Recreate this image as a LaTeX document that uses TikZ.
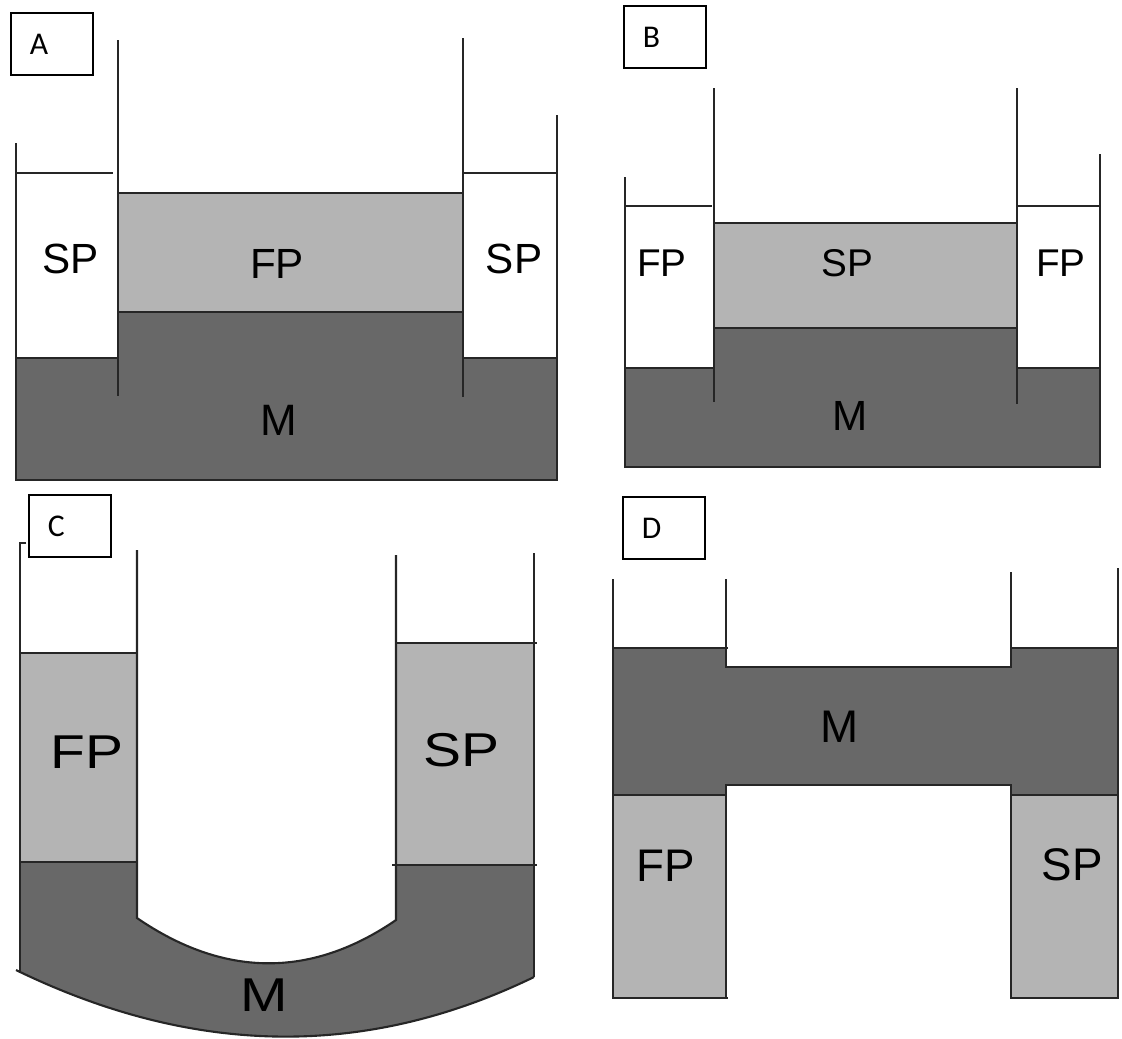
\documentclass[tikz,border=0pt]{standalone}
\usepackage{fontspec}
\setmainfont{Liberation Sans}
\newfontfamily\tagfont{Carlito}
\newfontfamily\widefont[FakeStretch=1.2]{Liberation Sans}
\definecolor{lightgr}{RGB}{180,180,180}
\definecolor{darkgr}{RGB}{104,104,104}

\begin{document}
\begin{tikzpicture}[
      x=0.01cm, y=-0.01cm,
      mywall/.style={draw=black!85, line width=0.6pt},
      mylight/.style={fill=lightgr},
      mydark/.style={fill=darkgr},
      mylabel/.style={inner sep=0pt, font=\fontsize{#1}{#1}\selectfont},
      mylabel/.default=12,
      mywide/.style={inner sep=0pt, font=\widefont\fontsize{13.5}{13.5}\selectfont},
      mytag/.style={
         draw=black,
         line width=0.5pt,
         anchor=north west,
         inner xsep=0.19cm,
         text width=0.44cm,
         minimum height=0.62cm,
         align=left,
         font=\tagfont\fontsize{9}{10}\selectfont}
      ]
      \useasboundingbox (0,0) rectangle (1122,1038);

      % A
      \fill[mydark] (16,358) -- (118,358) -- (118,312) -- (463,312) -- (463,358)
         -- (557,358) -- (557,480) -- (16,480) -- cycle;
      \filldraw[mylight, mywall] (118,193) rectangle (463,312);
      \draw[mywall] (16,143) -- (16,480) -- (557,480) -- (557,115);
      \draw[mywall] (16,173) -- (113,173) (463,173) -- (557,173);
      \draw[mywall] (16,358) -- (118,358) (463,358) -- (557,358);
      \draw[mywall] (118,40) -- (118,396) (463,38) -- (463,397);
      \node[mytag] (tagA) at (10,12) {A};
      \node[mylabel] (spA1) at (71,259) {SP};
      \node[mylabel] (fpA) at (277,264) {FP};
      \node[mylabel] (spA2) at (514,259) {SP};
      \node[mylabel=12.5] (mA) at (279,420) {M};

      % B
      \fill[mydark] (625,368) -- (714,368) -- (714,328) -- (1017,328) -- (1017,368)
         -- (1100,368) -- (1100,467) -- (625,467) -- cycle;
      \filldraw[mylight, mywall] (714,223) rectangle (1017,328);
      \draw[mywall] (625,177) -- (625,467) -- (1100,467) -- (1100,154);
      \draw[mywall] (625,206) -- (712,206) (1017,206) -- (1100,206);
      \draw[mywall] (625,368) -- (714,368) (1017,368) -- (1100,368);
      \draw[mywall] (714,88) -- (714,402) (1017,88) -- (1017,404);
      \node[mytag] (tagB) at (623,5) {B};
      \node[mylabel=11] (fpB1) at (662,263) {FP};
      \node[mylabel=11] (spB) at (847,263) {SP};
      \node[mylabel=11] (fpB2) at (1061,263) {FP};
      \node[mylabel] (mB) at (850,416) {M};

      % C
      \fill[mylight] (20,653) rectangle (137,862);
      \fill[mylight] (396,643) rectangle (534,865);
      \fill[mydark] (20,862) -- (137,862) -- (137,918)
         .. controls (223,977) and (310,979) .. (396,920) -- (396,865) -- (534,865)
         -- (534,977) .. controls (363,1060) and (191,1055) .. (20,972) -- cycle;
      \draw[mywall] (26,543) -- (20,543) -- (20,972);
      \draw[mywall] (137,550) -- (137,918)
         .. controls (223,977) and (310,979) .. (396,920) -- (396,555);
      \draw[mywall] (534,553) -- (534,977);
      \draw[mywall] (16,970) .. controls (191,1055) and (363,1060) .. (534,977);
      \draw[mywall] (20,653) -- (137,653) (20,862) -- (137,862);
      \draw[mywall] (396,643) -- (537,643) (392,865) -- (537,865);
      \node[mytag] (tagC) at (28,494) {C};
      \node[mywide] (fpC) at (87,752) {FP};
      \node[mywide] (spC) at (461,750) {SP};
      \node[mywide] (mC) at (264,995) {M};

      % D
      \fill[mydark] (613,648) -- (726,648) -- (726,667) -- (1011,667) -- (1011,648)
         -- (1118,648) -- (1118,795) -- (1011,795) -- (1011,785) -- (726,785)
         -- (726,795) -- (613,795) -- cycle;
      \fill[mylight] (613,795) rectangle (726,998);
      \fill[mylight] (1011,795) rectangle (1118,998);
      \draw[mywall] (613,579) -- (613,998) -- (728,998);
      \draw[mywall] (726,579) -- (726,667) -- (1011,667) -- (1011,572);
      \draw[mywall] (613,648) -- (728,648) (1011,648) -- (1118,648);
      \draw[mywall] (1118,568) -- (1118,998) -- (1011,998) -- (1011,785)
         -- (726,785) -- (726,998);
      \draw[mywall] (613,795) -- (726,795) (1011,795) -- (1118,795);
      \node[mytag] (tagD) at (622,496) {D};
      \node[mylabel=13] (fpD) at (666,866) {FP};
      \node[mylabel=13] (spD) at (1072,865) {SP};
      \node[mylabel=13] (mD) at (840,727) {M};
\end{tikzpicture}
\end{document}
